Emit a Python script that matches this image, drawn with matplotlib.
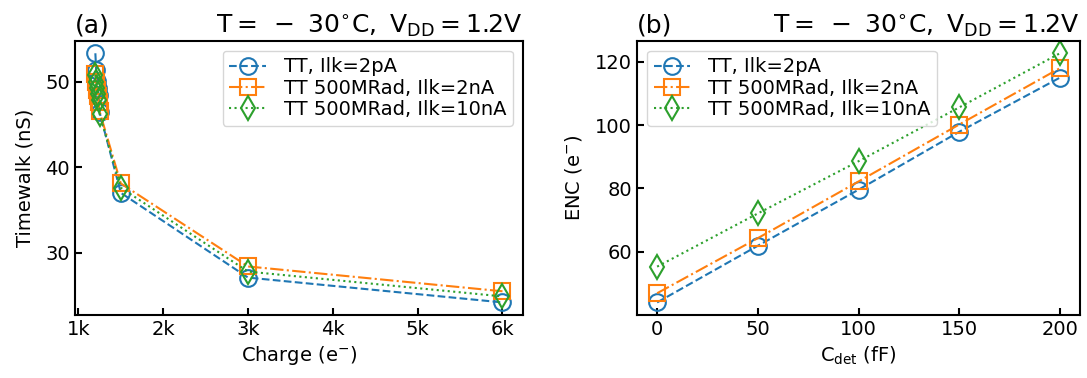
import numpy as np
import matplotlib
matplotlib.use('Agg')
import matplotlib.pyplot as plt
from matplotlib.ticker import MultipleLocator

# timewalk vs charge
charge = [1200, 1210, 1220, 1230, 1240, 1250, 1500, 3000, 6000]
tw_tt = [53.3, 51.3, 50.1, 49.2, 48.4, 46.4, 37.0, 27.1, 24.2]
tw_500_2n = [50.9, 49.9, 49.0, 48.3, 47.6, 46.5, 38.1, 28.4, 25.5]
tw_500_10n = [50.8, 49.9, 49.3, 48.6, 47.9, 46.2, 37.6, 27.8, 24.9]
charge_ticks = [1000, 2000, 3000, 4000, 5000, 6000]
charge_labels = ['1k', '2k', '3k', '4k', '5k', '6k']

# ENC vs detector capacitance
cdet = [0, 50, 100, 150, 200]
enc_tt = [44.0, 61.9, 79.6, 97.9, 115.0]
enc_500_2n = [46.9, 64.3, 82.2, 100.2, 118.0]
enc_500_10n = [55.3, 72.1, 88.6, 105.6, 122.7]

labels = ['TT, Ilk=2pA', 'TT 500MRad, Ilk=2nA', 'TT 500MRad, Ilk=10nA']
styles = [('o', '--', 'C0'), ('s', '-.', 'C1'), ('d', ':', 'C2')]
cond = r'$\mathrm{T=\;-\ 30^{\circ}C,\ V_{DD}=1.2V}$'

fig = plt.figure(figsize=(10.87, 3.78), dpi=100)
ax1 = fig.add_axes([0.069, 0.167, 0.412, 0.725])
ax2 = fig.add_axes([0.586, 0.167, 0.4076, 0.725])

for ys, lab, (m, ls, c) in zip([tw_tt, tw_500_2n, tw_500_10n], labels, styles):
    ax1.plot(charge, ys, marker=m, ls=ls, color=c, mfc='none', ms=12, mew=1.5, lw=1.5, label=lab)
for ys, lab, (m, ls, c) in zip([enc_tt, enc_500_2n, enc_500_10n], labels, styles):
    ax2.plot(cdet, ys, marker=m, ls=ls, color=c, mfc='none', ms=12, mew=1.5, lw=1.5, label=lab)

ax1.set_xticks(charge_ticks)
ax1.set_xticklabels(charge_labels)
ax1.yaxis.set_major_locator(MultipleLocator(10))
ax1.set_xlabel(r'Charge (e$^{-}$)', fontsize=14)
ax1.set_ylabel('Timewalk (nS)', fontsize=14, labelpad=8)
ax1.set_title('(a)', loc='left', fontsize=18)
ax1.set_title(cond, loc='right', fontsize=18)

ax2.set_xticks([0, 50, 100, 150, 200])
ax2.yaxis.set_major_locator(MultipleLocator(20))
ax2.set_xlabel(r'C$_{\rm det}$ (fF)', fontsize=14)
ax2.set_ylabel(r'ENC (e$^{-}$)', fontsize=14, labelpad=8)
ax2.set_title('(b)', loc='left', fontsize=18)
ax2.set_title(cond, loc='right', fontsize=18)

for ax, loc in ((ax1, 'upper right'), (ax2, 'upper left')):
    ax.tick_params(direction='in', labelsize=14, length=5, width=1.5)
    for s in ax.spines.values():
        s.set_linewidth(1.5)
    ax.legend(loc=loc, fontsize=14, handlelength=1.9,
              borderpad=0.35, labelspacing=0.12, handletextpad=0.9,
              borderaxespad=0.5)

fig.savefig('out.png', dpi=100)
